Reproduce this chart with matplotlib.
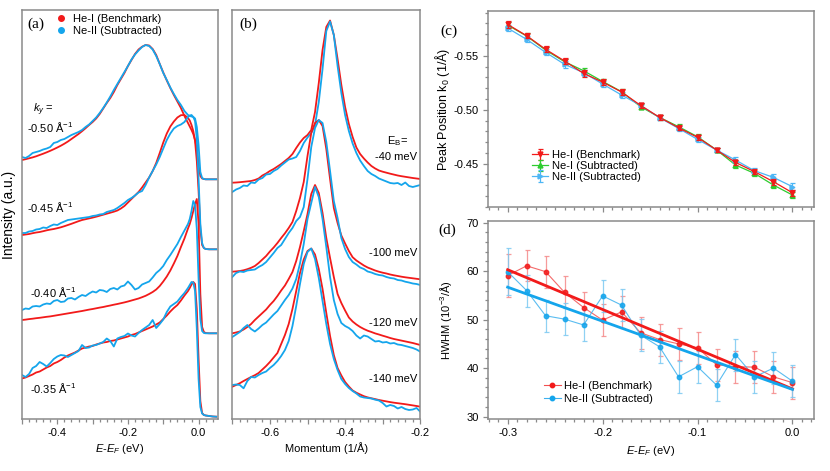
import numpy as np
import matplotlib
matplotlib.use("Agg")
import matplotlib.pyplot as plt
from matplotlib.lines import Line2D
from matplotlib.ticker import MultipleLocator, FixedLocator, FuncFormatter

plt.rcParams['font.family'] = ['Liberation Sans', 'DejaVu Sans']
plt.rcParams['mathtext.fontset'] = 'custom'
plt.rcParams['mathtext.rm'] = 'Liberation Sans'
plt.rcParams['mathtext.it'] = 'Liberation Sans:italic'
plt.rcParams['axes.unicode_minus'] = False

# ---------------- data: panel (a) EDCs ----------------
E_A = [-0.50, -0.49, -0.48, -0.47, -0.46, -0.45, -0.44, -0.43, -0.42, -0.41,
       -0.40, -0.39, -0.38, -0.37, -0.36, -0.35, -0.34, -0.33, -0.32, -0.31,
       -0.30, -0.29, -0.28, -0.27, -0.26, -0.25, -0.24, -0.23, -0.22, -0.21,
       -0.20, -0.19, -0.18, -0.17, -0.16, -0.15, -0.14, -0.13, -0.12, -0.11,
       -0.10, -0.09, -0.08, -0.07, -0.06, -0.05, -0.04, -0.03,
       -0.025, -0.02, -0.015, -0.01, -0.005, 0.0, 0.005, 0.01, 0.015, 0.02,
       0.03, 0.04, 0.05]

a_he_050 = [259, 259.8, 260.7, 261.6, 262.7, 264, 265.3, 266.7, 268.2, 269.8,
            271.5, 273.3, 275.3, 277.5, 280, 282.5, 285, 287.8, 290.8, 294,
            297, 300.5, 305, 310.5, 316, 321, 327, 334, 340, 346,
            353, 359, 365, 369.5, 372.3, 374, 373.5, 370, 364, 355,
            346.5, 338.5, 331, 324, 317.5, 311, 303, 296,
            292.5, 289, 285, 279, 270, 254, 243, 240.5, 240, 239.7,
            239.7, 239.7, 239.7]
a_ne_050 = [262, 261, 263, 266, 267, 268, 269.5, 270.5, 272, 276,
            277, 279, 280, 282, 284, 285.5, 287, 289, 292, 294.5,
            298, 301.5, 306, 311, 316.5, 322.5, 329, 335, 341, 347,
            353, 359.5, 364.5, 368.5, 372, 374, 373, 369.5, 363, 355,
            346, 339, 331.5, 325, 319, 314, 308, 304,
            303, 302.5, 302, 300.5, 292, 274, 247, 241, 240, 239.7,
            239.7, 239.7, 239.7]
a_he_045 = [184, 184.5, 185, 185.8, 186.5, 187, 187.8, 188.7, 189.4, 190,
            190.8, 191.7, 192.8, 194, 195.2, 196.5, 197.8, 199, 199.8, 200.6,
            201.4, 202.3, 203.3, 204.3, 205.3, 206.3, 207.3, 208.5, 210.5, 213,
            216.5, 220, 223.5, 227, 231.5, 236.5, 241.5, 248, 256, 266,
            276.5, 285.5, 292.5, 297.5, 301.5, 303.8, 304, 301,
            298.5, 294, 288, 278, 258, 228, 190, 174, 171, 170,
            169.7, 169.7, 169.7]
a_ne_045 = [186, 186, 187.5, 188, 189.5, 190, 191.5, 191, 193, 194.5,
            194, 196, 197.5, 199, 199.5, 200, 200.5, 201, 201.5, 202,
            203, 203.5, 204.5, 205, 207, 208, 209, 211, 213.5, 216,
            219, 221, 223.5, 226.5, 228, 234, 241.5, 248, 254.5, 262,
            270.5, 279, 285.5, 290.5, 293, 294.5, 297, 302,
            303.5, 304, 302, 298, 280, 240, 195, 176, 171, 170,
            169.7, 169.7, 169.7]
a_he_040 = [99, 99.4, 99.9, 100.3, 100.8, 101.2, 101.7, 102.2, 102.6, 103.2,
            103.8, 104.4, 105, 105.6, 106.2, 106.8, 107.4, 108, 108.7, 109.4,
            110, 110.7, 111.4, 112, 112.8, 113.5, 114.3, 115, 115.8, 116.6,
            117.5, 118.5, 119.5, 120.5, 121.8, 123.2, 125, 127, 129.5, 133,
            137.5, 142.5, 148.5, 155.5, 163, 172, 180.5, 190.5,
            195, 201, 208, 215, 220, 195, 125, 92, 87, 86,
            85.7, 85.7, 85.7]
a_ne_040 = [109, 110.5, 110, 112.5, 113, 112.5, 114.5, 115.5, 115, 118,
            119, 117, 117.5, 120.5, 121, 119.5, 122, 124, 123, 125.5,
            127.5, 126.5, 129, 128.5, 127, 130, 131, 129.5, 132.5, 133.5,
            137.5, 134, 129.5, 131, 134.5, 136, 137.5, 141.5, 146, 149,
            153, 159, 164, 169.5, 175, 182, 188.5, 195,
            200, 208, 218, 214, 190, 140, 100, 88, 86, 85.7,
            85.7, 85.7, 85.7]
a_he_035 = [40.5, 41.5, 43, 44.5, 46.5, 47.5, 49.5, 51.5, 53, 55.5,
            57, 59, 61.5, 63.5, 65, 66.5, 68.5, 70.5, 71.5, 72.5,
            73, 74.5, 75.5, 76.5, 77, 78, 78.5, 79.5, 80.5, 81.5,
            82.5, 84, 85, 86.5, 88, 89.5, 91, 92.5, 94.5, 96.5,
            100, 103.5, 107.5, 111, 114, 118.5, 123.5, 128,
            131, 134.5, 137, 135, 110, 60, 18, 6, 4, 3.5,
            3, 2.5, 2.3]
a_ne_035 = [44, 42, 45, 51, 53, 57, 55, 52.5, 56, 60,
            62.5, 64, 63.5, 62, 64, 66, 68, 74, 71, 71.5,
            73.5, 74, 75.5, 77, 80.5, 78, 72.5, 80.5, 82, 83,
            85.5, 83.5, 82.5, 86, 89, 91.5, 94, 99, 91, 95,
            99.5, 107, 112.5, 115, 117.5, 122, 126, 131,
            134, 137, 136.5, 128, 90, 40, 12, 5.5, 4, 3.5,
            3, 2.5, 2.3]
ky_labels = ["-0.50", "-0.45", "-0.40", "-0.35"]

# ---------------- data: panel (b) MDCs ----------------
K_B = [-0.70, -0.69, -0.68, -0.67, -0.66, -0.65, -0.64, -0.63, -0.62, -0.61,
       -0.60, -0.59, -0.58, -0.57, -0.56, -0.55, -0.54, -0.53, -0.52, -0.51,
       -0.50, -0.49, -0.48, -0.47, -0.46, -0.45, -0.44, -0.43, -0.42, -0.41,
       -0.40, -0.39, -0.38, -0.37, -0.36, -0.35, -0.34, -0.33, -0.32, -0.31,
       -0.30, -0.29, -0.28, -0.27, -0.26, -0.25, -0.24, -0.23, -0.22, -0.21,
       -0.20]
b_he_40 = [236.3, 236.5, 236.8, 237.2, 237.6, 238, 239, 240.5, 243.5, 245.5,
           248, 250, 252.5, 255, 258, 261, 265, 271, 276.5, 281,
           284, 289, 307, 336, 369, 392, 398.5, 384, 360, 334,
           312, 295, 282, 271.5, 265, 260.5, 256.5, 253, 250.5, 248.5,
           247.3, 246.3, 245.3, 244.4, 243.5, 242.8, 242.2, 241.6, 241, 240.5,
           240]
b_ne_40 = [227, 229.5, 231, 233.5, 233, 236.5, 236, 239.5, 241, 244.5,
           245, 248, 250, 253.5, 256.5, 259.5, 260.5, 262, 268, 276,
           281.5, 286, 294, 317, 350, 388, 397.5, 384, 353, 326,
           304, 288, 275.5, 266, 258.5, 253, 248, 245, 243, 240.5,
           239, 237.5, 236, 235.5, 236, 234, 236.5, 233, 232, 233,
           234]
b_he_100 = [147.3, 147.6, 148, 148.7, 149.8, 151.2, 153, 156, 159.5, 163,
            167.5, 171.5, 176, 181, 185.7, 191, 197, 208, 221, 237,
            263, 286, 296, 299, 293, 270, 240, 211, 196, 183.5,
            175.5, 168, 161.8, 158.5, 156, 153.5, 151.5, 150, 148.5, 147.3,
            146.3, 145.5, 144.5, 143.7, 143, 142.3, 141.7, 141.2, 140.7, 140.2,
            139.7]
b_ne_100 = [142, 146, 147.5, 147, 148.5, 149, 149.5, 152, 154, 157,
            161.5, 166, 171, 174, 180, 186, 191, 198, 202, 212,
            240, 272, 291, 299, 296, 277, 248, 218, 201, 181,
            170, 162, 157, 154.5, 151.5, 150, 147.5, 146.5, 145, 144,
            143.5, 142, 141, 140.5, 139, 138.5, 137.3, 136.5, 135.5, 135,
            134]
b_he_120 = [85.7, 86.5, 87.5, 89.5, 92, 95, 99, 102.5, 106, 109.5,
            114, 118, 123, 128.5, 133.5, 140, 147, 158, 172, 188,
            205, 225, 234, 226, 206, 181, 161, 142, 125, 116,
            108.5, 101.5, 97.5, 94.5, 92, 90, 88.3, 87, 85.6, 84.5,
            83.3, 82.2, 81, 80, 79.2, 78.4, 77.6, 76.8, 76, 75,
            74]
b_ne_120 = [82, 84.5, 87, 91, 94, 90, 87.5, 90.5, 94, 96.5,
            100.5, 104.5, 108, 113.5, 119, 124, 130.5, 140, 155.5, 175,
            200, 216, 232, 222, 200, 172, 142, 119, 105, 96,
            93, 91, 88, 83.5, 80.5, 83.5, 82.5, 80, 77.5, 78,
            76.5, 77, 75.5, 76, 74.5, 74, 73, 72, 71, 69.5,
            67.3]
b_he_140 = [32.3, 34, 35.8, 38, 40, 42, 43.8, 46, 49.5, 53,
            57, 61.5, 66, 75, 84, 95, 110, 128, 146, 159.5,
            168, 170.5, 164.5, 150, 130, 106, 83, 64, 51, 43.5,
            37, 32.5, 28.5, 26.3, 24.5, 22.8, 21.6, 20.7, 19.9, 19,
            18.3, 17.6, 16.9, 16.3, 15.8, 15.3, 14.8, 14.2, 13.6, 13,
            12.3]
b_ne_140 = [34, 34.5, 34, 30.7, 38, 42, 41.5, 44, 46, 47.5,
            51, 54, 58, 63, 69, 78, 93, 113, 135, 155,
            167, 170.5, 160, 141, 118, 95, 75, 60, 49, 40,
            35, 31, 28, 25.5, 22.5, 21.5, 21, 20.5, 19.3, 18.5,
            16, 12.5, 14, 13, 10.5, 12, 10, 9, 9.5, 11,
            7.3]
eb_labels = ["-40 meV", "-100 meV", "-120 meV", "-140 meV"]

# ---------------- data: panel (c) peak position ----------------
E_C = [-0.30, -0.28, -0.26, -0.24, -0.22, -0.20, -0.18, -0.16,
       -0.14, -0.12, -0.10, -0.08, -0.06, -0.04, -0.02, 0.00]
k0_he1 = [-0.5790, -0.5685, -0.5559, -0.5451, -0.5336, -0.5256, -0.5164, -0.5040,
          -0.4929, -0.4833, -0.4744, -0.4627, -0.4512, -0.4426, -0.4333, -0.4231]
k0_ne1 = [-0.5784, -0.5682, -0.5552, -0.5444, -0.5361, -0.5262, -0.5167, -0.5028,
          -0.4929, -0.4843, -0.4750, -0.4627, -0.4488, -0.4410, -0.4302, -0.4210]
k0_ne2 = [-0.5756, -0.5651, -0.5531, -0.5420, -0.5343, -0.5238, -0.5136, -0.5040,
          -0.4926, -0.4827, -0.4725, -0.4627, -0.4534, -0.4435, -0.4373, -0.4287]
k0_err_he1 = [0.0030, 0.0025, 0.0028, 0.0030, 0.0030, 0.0025, 0.0025, 0.0022,
              0.0022, 0.0022, 0.0025, 0.0022, 0.0025, 0.0025, 0.0028, 0.0028]
k0_err_ne1 = [0.0028, 0.0025, 0.0025, 0.0028, 0.0028, 0.0025, 0.0025, 0.0022,
              0.0022, 0.0022, 0.0025, 0.0022, 0.0025, 0.0025, 0.0028, 0.0028]
k0_err_ne2 = [0.0030, 0.0028, 0.0028, 0.0030, 0.0028, 0.0025, 0.0025, 0.0022,
              0.0022, 0.0025, 0.0025, 0.0022, 0.0028, 0.0028, 0.0030, 0.0030]

# ---------------- data: panel (d) HWHM ----------------
hw_he1 = [59.1, 61.1, 59.9, 55.6, 52.5, 49.9, 51.6, 47.3,
          45.9, 45.0, 44.2, 40.7, 40.3, 40.2, 38.2, 37.0]
hw_ne2 = [59.9, 56.0, 50.8, 50.1, 48.9, 54.9, 53.0, 46.8,
          44.4, 38.2, 40.3, 36.5, 42.8, 38.2, 40.0, 37.3]
hw_err_he1 = [4.4, 3.2, 3.3, 3.3, 3.3, 3.3, 3.3, 3.3,
              3.3, 3.3, 3.3, 3.3, 3.3, 3.3, 3.3, 3.3]
hw_err_ne2 = [4.8, 3.3, 3.3, 3.3, 3.3, 3.3, 3.3, 3.3,
              3.3, 3.3, 3.3, 3.3, 3.3, 3.3, 3.3, 3.3]
fit_E = [-0.30, 0.00]
fit_he1 = [60.3, 35.7]
fit_ne2 = [56.7, 35.6]

# ---------------- styling ----------------
RED = '#F21A1A'
BLUE = '#14A5EC'
GREEN = '#2ECC2E'
LBLUE = '#4DB6F5'
GRAY = '#8A8A8A'
FS = 8

fig = plt.figure(figsize=(8.30, 4.71), dpi=100)
W, H = 830.0, 471.0
def box(x0, y0, x1, y1):
    return [x0 / W, 1 - y1 / H, (x1 - x0) / W, (y1 - y0) / H]

ax_a = fig.add_axes(box(22, 10, 218, 419))
ax_b = fig.add_axes(box(232.3, 10, 420.3, 419))
ax_c = fig.add_axes(box(487.7, 11, 814.3, 207))
ax_d = fig.add_axes(box(487.7, 221, 814.3, 419))

def style(ax):
    for s in ax.spines.values():
        s.set_color(GRAY)
        s.set_linewidth(1.1)
    ax.tick_params(which='both', direction='out', color=GRAY, labelsize=FS,
                   width=0.9, top=False, right=False)
    ax.tick_params(which='major', length=3.5, pad=3)
    ax.tick_params(which='minor', length=2.0)

def only_at(labels_at):
    def f(v, pos):
        for t in labels_at:
            if abs(v - t) < 1e-6:
                return "%.1f" % t
        return ""
    return FuncFormatter(f)

# ---- panel (a)
for he, ne in [(a_he_050, a_ne_050), (a_he_045, a_ne_045),
               (a_he_040, a_ne_040), (a_he_035, a_ne_035)]:
    ax_a.plot(E_A, he, color=RED, lw=1.3)
    ax_a.plot(E_A, ne, color=BLUE, lw=1.3)
ax_a.set_xlim(-0.5, 0.055)
ax_a.set_ylim(0, 409)
ax_a.set_yticks([])
style(ax_a)
ax_a.xaxis.set_major_locator(FixedLocator([-0.5, -0.4, -0.3, -0.2, -0.1, 0.0]))
ax_a.xaxis.set_major_formatter(only_at([-0.4, -0.2, 0.0]))
ax_a.xaxis.set_minor_locator(MultipleLocator(0.02))
ax_a.set_xlabel("$E$-$E_F$ (eV)", fontsize=FS, labelpad=3)
ax_a.set_ylabel("Intensity (a.u.)", fontsize=10, labelpad=4)
ax_a.text(0.07, 0.965, "(a)", transform=ax_a.transAxes, fontsize=11,
          family='Liberation Serif', va='center', ha='center')
ax_a.text(-0.469, 419 - 110, "$k_y$ =", fontsize=FS, va='center', ha='left')
lab_y = [419 - 127, 419 - 207, 419 - 292, 419 - 388]
lab_x = [-0.487, -0.487, -0.478, -0.478]
for txt, yy, xx in zip(ky_labels, lab_y, lab_x):
    ax_a.text(xx, yy, txt + " Å$^{\\mathregular{-1}}$", fontsize=FS,
              va='center', ha='left')
ax_a.legend(handles=[Line2D([], [], marker='o', ls='none', color=RED, ms=4),
                     Line2D([], [], marker='o', ls='none', color=BLUE, ms=4)],
            labels=["He-I (Benchmark)", "Ne-II (Subtracted)"],
            loc='upper left', bbox_to_anchor=(0.18, 0.99), frameon=False,
            fontsize=FS, handlelength=0.6, handletextpad=0.8,
            labelspacing=0.2, borderpad=0, borderaxespad=0)

# ---- panel (b)
for he, ne in [(b_he_40, b_ne_40), (b_he_100, b_ne_100),
               (b_he_120, b_ne_120), (b_he_140, b_ne_140)]:
    ax_b.plot(K_B, he, color=RED, lw=1.3)
    ax_b.plot(K_B, ne, color=BLUE, lw=1.3)
ax_b.set_xlim(-0.7, -0.2)
ax_b.set_ylim(0, 409)
ax_b.set_yticks([])
style(ax_b)
ax_b.xaxis.set_major_locator(FixedLocator([-0.7, -0.6, -0.5, -0.4, -0.3, -0.2]))
ax_b.xaxis.set_major_formatter(only_at([-0.6, -0.4, -0.2]))
ax_b.xaxis.set_minor_locator(MultipleLocator(0.02))
ax_b.set_xlabel("Momentum (1/Å)", fontsize=FS, labelpad=3)
ax_b.text(0.085, 0.965, "(b)", transform=ax_b.transAxes, fontsize=11,
          family='Liberation Serif', va='center', ha='center')
ax_b.text(-0.262, 419 - 141, "E$_{\\mathregular{B}}$=", fontsize=FS, ha='center', va='center')
eb_y = [419 - 157, 419 - 253, 419 - 323, 419 - 379]
for txt, yy in zip(eb_labels, eb_y):
    ax_b.text(-0.208, yy, txt, fontsize=FS, ha='right', va='center')

# ---- panel (c)
ax_c.errorbar(E_C, k0_he1, yerr=k0_err_he1, color=RED, marker='v', ms=3.5,
              lw=0.9, elinewidth=0.9, capsize=1.8, capthick=0.9, label="He-I (Benchmark)", zorder=3)
ax_c.errorbar(E_C, k0_ne1, yerr=k0_err_ne1, color=GREEN, marker='^', ms=3.5,
              lw=0.9, elinewidth=0.9, capsize=1.8, capthick=0.9, label="Ne-I (Subtracted)", zorder=2)
ax_c.errorbar(E_C, k0_ne2, yerr=k0_err_ne2, color=LBLUE, marker='>', ms=3.5,
              lw=0.9, elinewidth=0.9, capsize=1.8, capthick=0.9, label="Ne-II (Subtracted)", zorder=2)
ax_c.set_xlim(-0.321, 0.023)
ax_c.set_ylim(-0.4099, -0.5914)
style(ax_c)
ax_c.xaxis.set_major_locator(MultipleLocator(0.1))
ax_c.xaxis.set_minor_locator(MultipleLocator(0.01))
ax_c.tick_params(axis='x', labelbottom=False)
ax_c.yaxis.set_major_locator(FixedLocator([-0.55, -0.50, -0.45]))
ax_c.yaxis.set_major_formatter(FuncFormatter(lambda v, p: "%.2f" % v))
ax_c.yaxis.set_minor_locator(MultipleLocator(0.01))
ax_c.set_ylabel("Peak Position k$_{\\mathregular{0}}$ (1/Å)", fontsize=9, labelpad=1)
fig.text(449 / W, 1 - 31 / H, "(c)", fontsize=11, family='Liberation Serif',
         ha='center', va='center')
ax_c.legend(loc='upper left', bbox_to_anchor=(0.135, 0.29), frameon=False,
            fontsize=FS, handlelength=1.5, handletextpad=0.35, labelspacing=0.08,
            borderpad=0, borderaxespad=0)

# ---- panel (d)
ax_d.errorbar(E_C, hw_he1, yerr=hw_err_he1, color='#F25050', marker='o', ms=3.2,
              lw=0.8, elinewidth=0.9, capsize=1.8, capthick=0.9, alpha=0.85,
              ecolor='#F58A8A', mfc=RED, mec=RED, label="He-I (Benchmark)", zorder=3)
ax_d.errorbar(E_C, hw_ne2, yerr=hw_err_ne2, color='#3DB1EE', marker='o', ms=3.2,
              lw=0.8, elinewidth=0.9, capsize=1.8, capthick=0.9, alpha=0.85,
              ecolor='#7CC9F2', mfc=BLUE, mec=BLUE, label="Ne-II (Subtracted)", zorder=3)
ax_d.plot(fit_E, fit_he1, color=RED, lw=2.0, zorder=4)
ax_d.plot(fit_E, fit_ne2, color=BLUE, lw=2.0, zorder=4)
ax_d.set_xlim(-0.321, 0.023)
ax_d.set_ylim(29.5, 70.35)
style(ax_d)
ax_d.xaxis.set_major_locator(MultipleLocator(0.1))
ax_d.xaxis.set_major_formatter(FuncFormatter(lambda v, p: "%.1f" % (0.0 if abs(v) < 1e-9 else v)))
ax_d.xaxis.set_minor_locator(MultipleLocator(0.01))
ax_d.yaxis.set_major_locator(MultipleLocator(10))
ax_d.yaxis.set_minor_locator(MultipleLocator(2))
ax_d.set_xlabel("$E$-$E_F$ (eV)", fontsize=FS, labelpad=4)
ax_d.set_ylabel("HWHM (10$^{\\mathregular{-3}}$/Å)", fontsize=FS, labelpad=9)
fig.text(447.5 / W, 1 - 230 / H, "(d)", fontsize=11, family='Liberation Serif',
         ha='center', va='center')
hd = [Line2D([], [], color='#F25050', marker='o', ms=3.2, lw=0.8, mfc=RED, mec=RED),
      Line2D([], [], color='#3DB1EE', marker='o', ms=3.2, lw=0.8, mfc=BLUE, mec=BLUE)]
ax_d.legend(handles=hd, labels=["He-I (Benchmark)", "Ne-II (Subtracted)"],
            loc='upper left', bbox_to_anchor=(0.172, 0.19), frameon=False,
            fontsize=FS, handlelength=1.5, handletextpad=0.35, labelspacing=0.2,
            borderpad=0, borderaxespad=0)

fig.savefig("out.png", dpi=100)
